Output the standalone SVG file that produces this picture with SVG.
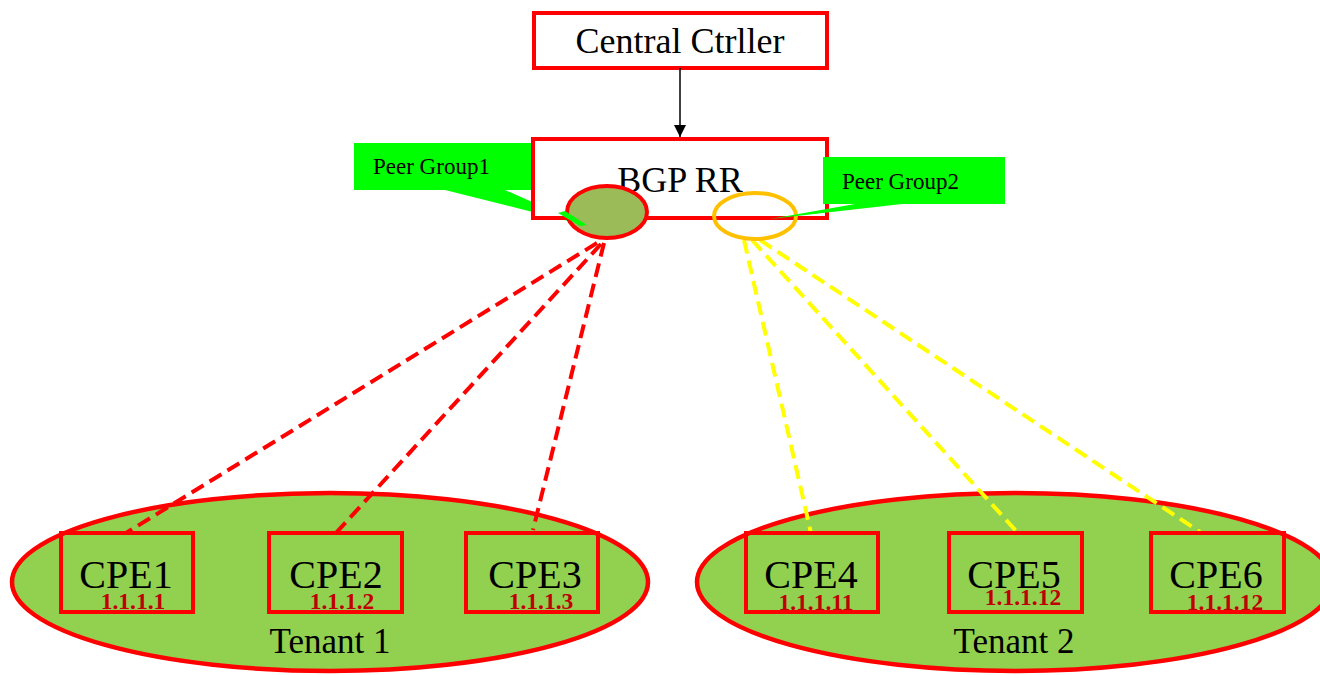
<svg xmlns="http://www.w3.org/2000/svg" width="1320" height="675" viewBox="0 0 1320 675">
<defs>
<style>
.box{fill:#fff;stroke:#ff0000;stroke-width:4}
.cpe{fill:none;stroke:#ff0000;stroke-width:4}
.tenant{fill:#92d050;stroke:#ff0000;stroke-width:4.5}
.t{font-family:"Liberation Serif","Times New Roman",serif;fill:#000}
.ip{font-family:"Liberation Serif","Times New Roman",serif;fill:#c00000;font-weight:bold;font-size:23.5px}
.pg{fill:#00ff00}
.red{stroke:#ff0000;stroke-width:4;stroke-dasharray:14 7;fill:none}
.yel{stroke:#ffff00;stroke-width:4;stroke-dasharray:14 7;fill:none}
</style>
<marker id="arr" viewBox="0 0 10 10" refX="10" refY="5" markerWidth="14" markerHeight="12" markerUnits="userSpaceOnUse" orient="auto"><path d="M0,0 L10,5 L0,10 z" fill="#000"/></marker>
</defs>
<g id="tenant1"><ellipse class="tenant" cx="330" cy="582" rx="318" ry="89"/><text class="t" x="330" y="653" font-size="35" text-anchor="middle">Tenant 1</text></g>
<g id="tenant2"><ellipse class="tenant" cx="1015" cy="582" rx="318" ry="89"/><text class="t" x="1014" y="653" font-size="35" text-anchor="middle">Tenant 2</text></g>
<g id="pg1-callout"><rect class="pg" x="354" y="143" width="182" height="47"/><polygon class="pg" points="445,190 505,190 584,225"/><text class="t" x="373" y="174" font-size="23">Peer Group1</text></g>
<g id="central"><rect class="box" x="534" y="13" width="293" height="55"/><text class="t" x="680" y="53" font-size="36" text-anchor="middle">Central Ctrller</text></g>
<g id="bgprr"><rect class="box" x="533" y="139" width="294" height="79"/><text class="t" x="680" y="192" font-size="36" text-anchor="middle">BGP RR</text></g>
<g id="connectors">
<line x1="680" y1="68" x2="680" y2="137" stroke="#000" stroke-width="1.5" marker-end="url(#arr)"/>
<line class="red" x1="597" y1="243" x2="126" y2="533"/>
<line class="red" x1="601" y1="244" x2="336" y2="533"/>
<line class="red" x1="604" y1="243" x2="533" y2="530"/>
<line class="yel" x1="744" y1="240" x2="811" y2="533"/>
<line class="yel" x1="752" y1="240" x2="1018" y2="533"/>
<line class="yel" x1="760" y1="240" x2="1200" y2="532"/>
</g>
<g id="pg1"><ellipse cx="607" cy="212" rx="40" ry="26" fill="#9bbb59" stroke="#ff0000" stroke-width="4"/><polygon class="pg" points="558,213 565,211 587,225 580,226"/></g>
<g id="pg2"><ellipse cx="755" cy="216" rx="41" ry="23" fill="none" stroke="#ffc000" stroke-width="4"/></g>
<g id="pg2-callout"><rect class="pg" x="823" y="157" width="182" height="47"/><polygon class="pg" points="855,204 902,204 770,219"/><text class="t" x="842" y="189" font-size="23">Peer Group2</text></g>
<g id="cpe1"><rect class="cpe" x="61" y="533" width="132" height="79"/><text class="t" x="126" y="588" font-size="40" text-anchor="middle">CPE1</text><text class="ip" x="133" y="609" text-anchor="middle">1.1.1.1</text></g>
<g id="cpe2"><rect class="cpe" x="269" y="533" width="133" height="79"/><text class="t" x="336" y="588" font-size="40" text-anchor="middle">CPE2</text><text class="ip" x="342" y="609" text-anchor="middle">1.1.1.2</text></g>
<g id="cpe3"><rect class="cpe" x="466" y="533" width="132" height="79"/><text class="t" x="535" y="588" font-size="40" text-anchor="middle">CPE3</text><text class="ip" x="541" y="609" text-anchor="middle">1.1.1.3</text></g>
<g id="cpe4"><rect class="cpe" x="746" y="533" width="132" height="79"/><text class="t" x="811" y="588" font-size="40" text-anchor="middle">CPE4</text><text class="ip" x="816" y="610" text-anchor="middle">1.1.1.11</text></g>
<g id="cpe5"><rect class="cpe" x="949" y="533" width="133" height="79"/><text class="t" x="1014" y="588" font-size="40" text-anchor="middle">CPE5</text><text class="ip" x="1023" y="605" text-anchor="middle">1.1.1.12</text></g>
<g id="cpe6"><rect class="cpe" x="1151" y="533" width="133" height="79"/><text class="t" x="1216" y="588" font-size="40" text-anchor="middle">CPE6</text><text class="ip" x="1225" y="610" text-anchor="middle">1.1.1.12</text></g>
</svg>
